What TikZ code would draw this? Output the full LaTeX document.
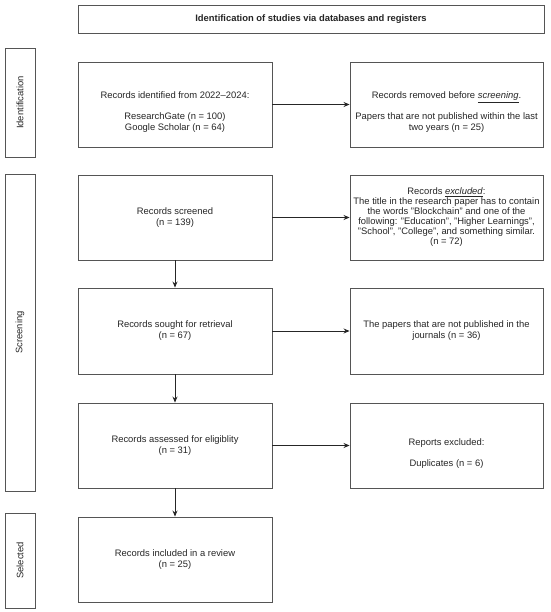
\documentclass[tikz,border=0pt]{standalone}
\usepackage{fontspec}
\setmainfont{Liberation Sans}
\usetikzlibrary{arrows.meta}
\definecolor{linec}{HTML}{555555}
\definecolor{textc}{HTML}{262626}
\newcommand{\topgap}{\rule{0pt}{22pt}}
\begin{document}
\begin{tikzpicture}[x=1pt,y=-1pt,
  box/.style={draw=linec, line width=0.9pt, rectangle, inner sep=2pt, align=center,
    text=textc, font=\fontsize{9.4}{11}\selectfont},
  lbox/.style={box, minimum width=194pt, minimum height=85pt},
  rbox/.style={box, minimum width=193pt, minimum height=85pt},
  side/.style={box, rotate=90, minimum height=30pt},
  arr/.style={draw=black!85, line width=0.8pt, -{Stealth[length=6pt,width=5pt]}}
]
\useasboundingbox (0,0) rectangle (550,612);
\fill[white] (0,0) rectangle (550,612);

\node[box, minimum width=466pt, minimum height=28pt, font=\bfseries\fontsize{9.4}{11}\selectfont] (title) at (311,19)
  {Identification of studies via databases and registers};

\node[side, minimum width=109pt] (sid) at (20,102.5) {Identification};
\node[side, minimum width=317pt] (sscr) at (20,332.5) {Screening};
\node[side, minimum width=95pt] (ssel) at (20,560.5) {Selected};

\node[lbox] (ident) at (175,104.5) {\topgap Records identified from 2022–2024:\\[10pt]ResearchGate (n = 100)\\Google Scholar (n = 64)};
\node[rbox] (removed) at (446.5,104.5) {\topgap Records removed before \underline{\textit{screening}}.\\[10pt]Papers that are not published within the last\\two years (n = 25)};

\node[lbox] (screened) at (175,217.5) {Records screened\\(n = 139)};
\node[rbox, font=\fontsize{9.4}{10}\selectfont] (excl) at (446.5,217.5) {Records \underline{\textit{excluded}}:\\The title in the research paper has to contain\\the words "Blockchain" and one of the\\following: "Education", "Higher Learnings",\\"School", "College", and something similar.\\(n = 72)};

\node[lbox, minimum height=86pt] (sought) at (175,331) {Records sought for retrieval\\(n = 67)};
\node[rbox, minimum height=86pt] (notpub) at (446.5,331) {The papers that are not published in the\\journals (n = 36)};

\node[lbox] (assessed) at (175,445.5) {Records assessed for eligiblity\\(n = 31)};
\node[rbox] (reports) at (446.5,445.5) {\topgap Reports excluded:\\[10pt]Duplicates (n = 6)};

\node[lbox] (included) at (175,559.5) {Records included in a review\\(n = 25)};

\draw[arr] (ident) -- (removed);
\draw[arr] (screened) -- (excl);
\draw[arr] (sought) -- (notpub);
\draw[arr] (assessed) -- (reports);
\draw[arr] (screened) -- (sought);
\draw[arr] (sought) -- (assessed);
\draw[arr] (assessed) -- (included);
\end{tikzpicture}
\end{document}
